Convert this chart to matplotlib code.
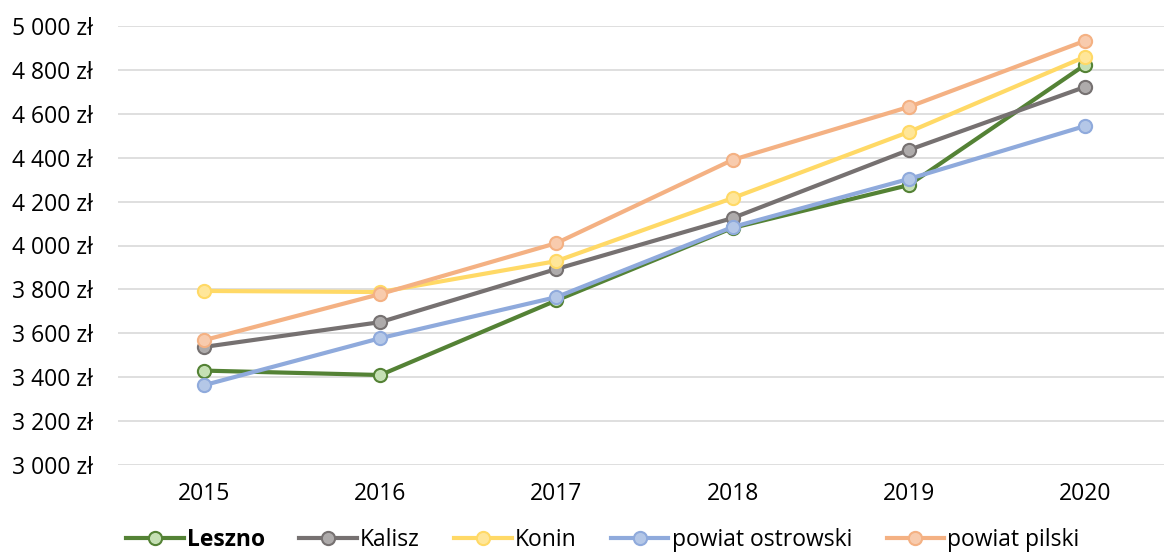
import matplotlib
matplotlib.use('Agg')
import matplotlib.pyplot as plt
from matplotlib.ticker import FuncFormatter

plt.rcParams['font.family'] = ['Open Sans', 'DejaVu Sans']

years = ['2015', '2016', '2017', '2018', '2019', '2020']
leszno = [3430, 3410, 3750, 4080, 4275, 4822]
kalisz = [3538, 3651, 3893, 4125, 4435, 4722]
konin = [3793, 3788, 3929, 4216, 4517, 4859]
ostrowski = [3364, 3578, 3765, 4084, 4303, 4544]
pilski = [3569, 3779, 4011, 4390, 4631, 4932]

series = [
    ('Leszno', leszno, '#548235', '#C5E0B4'),
    ('Kalisz', kalisz, '#767171', '#AEABAB'),
    ('Konin', konin, '#FFD966', '#FFE699'),
    ('powiat ostrowski', ostrowski, '#8FAADC', '#B4C7E7'),
    ('powiat pilski', pilski, '#F4B183', '#F8CBAD'),
]


def fmt(v, pos):
    return '{:,.0f}'.format(v).replace(',', ' ') + ' zł'


fig = plt.figure(figsize=(11.64, 5.59), dpi=100)
ax = fig.add_axes([118 / 1164, 1 - 465 / 559, 1 - 118 / 1164, (465 - 26) / 559])

x = list(range(len(years)))
for name, vals, col, face in series:
    ax.plot(x, vals, color=col, linewidth=3, marker='o', markersize=9.5,
            markerfacecolor=face, markeredgecolor=col, markeredgewidth=1.5,
            label=name, clip_on=False, zorder=3)

ax.set_ylim(3000, 5000)
ax.set_yticks(range(3000, 5001, 200))
ax.yaxis.set_major_formatter(FuncFormatter(fmt))
ax.set_xlim(-0.49, 5.45)
ax.set_xticks(x)
ax.set_xticklabels(years)
ax.grid(axis='y', color='#D9D9D9', linewidth=1.2)
ax.set_axisbelow(True)
for s in ax.spines.values():
    s.set_visible(False)
ax.tick_params(axis='both', length=0, labelsize=16.5, colors='#000000')
ax.tick_params(axis='y', pad=18)
ax.tick_params(axis='x', pad=12)

leg = fig.legend(loc='lower center', bbox_to_anchor=(0.518, -0.025), ncol=5, frameon=False,
                 fontsize=16.5, handlelength=2.5, columnspacing=1.5, handletextpad=0.15)
leg.get_texts()[0].set_fontweight('bold')

fig.savefig('out.png', dpi=100)
